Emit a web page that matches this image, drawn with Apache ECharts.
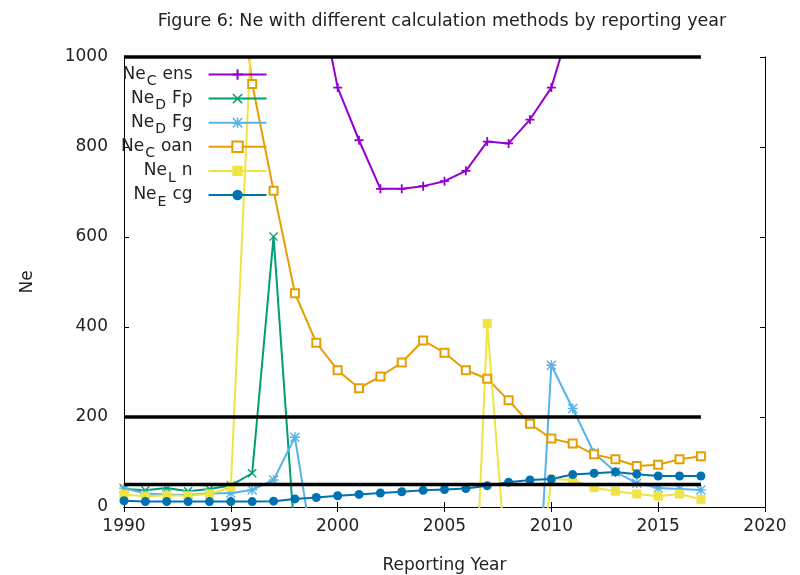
<!DOCTYPE html>
<html>
<head>
<meta charset="utf-8">
<script src="https://cdn.jsdelivr.net/npm/echarts@6/dist/echarts.min.js"></script>
<style>
  html, body { margin: 0; padding: 0; background: #fff; }
  #chart { width: 800px; height: 575px; }
</style>
</head>
<body>
<div id="chart"></div>
<script>
// reporting years 1990..2017
var years = [1990, 1991, 1992, 1993, 1994, 1995, 1996, 1997, 1998, 1999,
             2000, 2001, 2002, 2003, 2004, 2005, 2006, 2007, 2008, 2009,
             2010, 2011, 2012, 2013, 2014, 2015, 2016, 2017];

// values, null = not drawn / off the chart
var neCens = [null, null, null, null, null, null, null, null, null, 1170,
              932, 815, 707, 707, 713, 724, 747, 812, 808, 861,
              932, 1090, null, null, null, null, null, null];
var neDFp  = [40, 37, 42, 35, 40, 48, 75, 601, -75, null,
              null, null, null, null, null, null, null, null, null, null,
              null, null, null, null, null, null, null, null];
var neDFg  = [42, 30, 28, 27, 30, 31, 38, 60, 155, -140,
              null, null, null, null, null, null, null, null, null, -530,
              315, 219, 120, 78, 53, 42, 40, 38];
var neCoan = [null, null, null, null, null, 1350, 940, 703, 475, 365,
              304, 264, 290, 321, 370, 343, 304, 285, 237, 185,
              152, 141, 117, 106, 91, 94, 106, 113];
var neLn   = [28, 24, 26, 25, 29, 44, 1100, null, null, null,
              null, null, null, null, null, null, -710, 408, -200, -340,
              62, 60, 43, 35, 29, 24, 29, 17];
var neEcg  = [14, 12, 12, 12, 12, 12, 12, 13, 18, 21,
              25, 28, 31, 34, 37, 39, 41, 47, 55, 60,
              62, 72, 75, 78, 73, 69, 69, 69];

// black threshold lines
var refLevels = [1000, 200, 50];
var refFrom = 1990, refTo = 2017;

var xTicks = {min: 1990, max: 2020, step: 5};
var yTicks = {min: 0, max: 1000, step: 200};

var FONT = 'DejaVu Sans';

function pairs(vals) {
    return years.map(function (y, i) {
        return [y, vals[i] == null ? '-' : vals[i]];
    });
}

var plusPath = 'path://M4,0h2v4h4v2h-4v4h-2v-4h-4v-2h4z';
var crossPath = 'path://M1,0L5,4L9,0L10,1L6,5L10,9L9,10L5,6L1,10L0,9L4,5L0,1Z';
var starPath = 'path://M4.3,0h1.4v4.3h4.3v1.4h-4.3v4.3h-1.4v-4.3h-4.3v-1.4h4.3z' +
               'M1,0L5,4L9,0L10,1L6,5L10,9L9,10L5,6L1,10L0,9L4,5L0,1Z';

function mkLine(name, vals, color, symbol, size, extra) {
    var s = {
        name: name,
        type: 'line',
        data: pairs(vals),
        symbol: symbol,
        symbolSize: size,
        showSymbol: true,
        clip: true,
        lineStyle: {color: color, width: 2},
        itemStyle: {color: color},
        z: 3
    };
    if (extra) Object.assign(s.itemStyle, extra);
    return s;
}

var series = [
    mkLine('Ne_Cens', neCens, '#9400d3', plusPath, 9),
    mkLine('Ne_DFp', neDFp, '#009e73', crossPath, 9),
    mkLine('Ne_DFg', neDFg, '#56b4e9', starPath, 10),
    mkLine('Ne_Coan', neCoan, '#e69f00', 'emptyRect', 8, {borderWidth: 1.6, borderColor: '#e69f00'}),
    mkLine('Ne_Ln', neLn, '#f0e442', 'rect', 9),
    mkLine('Ne_Ecg', neEcg, '#0072b2', 'circle', 9)
];

refLevels.forEach(function (lv) {
    series.push({
        type: 'line',
        data: [[refFrom, lv], [refTo, lv]],
        symbol: 'none',
        silent: true,
        clip: false,
        lineStyle: {color: '#000', width: 3.5},
        z: 5
    });
});

var plainNum = function (v) { return String(v); };

var chart = echarts.init(document.getElementById('chart'));
chart.setOption({
    animation: false,
    backgroundColor: '#fff',
    title: {
        text: 'Figure 6: Ne with different calculation methods by reporting year',
        left: 437,
        textAlign: 'center',
        top: 7,
        textStyle: {fontFamily: FONT, fontSize: 17.5, fontWeight: 'normal', color: '#222'}
    },
    grid: {left: 124, right: 35, top: 57, bottom: 68, containLabel: false, outerBoundsMode: 'none'},
    legend: {
        orient: 'vertical',
        align: 'right',
        left: 121,
        top: 66,
        padding: 0,
        itemGap: 1.6,
        itemWidth: 58,
        itemHeight: 13,
        data: ['Ne_Cens', 'Ne_DFp', 'Ne_DFg', 'Ne_Coan', 'Ne_Ln', 'Ne_Ecg'],
        formatter: function (name) {
            var m = name.match(/^Ne_(\w)(.*)$/);
            return '{n|Ne}{s|' + m[1] + '}{n|' + m[2] + '}{g| }';
        },
        textStyle: {
            fontFamily: FONT,
            color: '#222',
            rich: {
                n: {fontFamily: FONT, fontSize: 17, lineHeight: 28, verticalAlign: 'middle', color: '#222'},
                s: {fontFamily: FONT, fontSize: 14, lineHeight: 14, verticalAlign: 'bottom', color: '#222', padding: [0, 6, 0, 1]},
                g: {width: 11, fontSize: 10}
            }
        }
    },
    xAxis: [{
        type: 'value',
        min: xTicks.min, max: xTicks.max, interval: xTicks.step,
        name: 'Reporting Year',
        nameLocation: 'middle',
        nameGap: 50,
        nameTextStyle: {fontFamily: FONT, fontSize: 17, color: '#222'},
        axisLine: {show: true, onZero: false, lineStyle: {color: '#000', width: 1}},
        axisTick: {show: true, inside: true, length: 5, lineStyle: {color: '#000'}},
        axisLabel: {fontFamily: FONT, fontSize: 17, color: '#222', margin: 11, formatter: plainNum},
        splitLine: {show: false}
    }, {
        type: 'value', position: 'top',
        min: xTicks.min, max: xTicks.max, interval: xTicks.step,
        axisLine: {show: true, lineStyle: {color: '#000', width: 1}},
        axisTick: {show: true, inside: true, length: 5, lineStyle: {color: '#000'}},
        axisLabel: {show: false},
        splitLine: {show: false}
    }],
    yAxis: [{
        type: 'value',
        min: yTicks.min, max: yTicks.max, interval: yTicks.step,
        name: 'Ne',
        nameLocation: 'middle',
        nameGap: 88,
        nameTextStyle: {fontFamily: FONT, fontSize: 17, color: '#222'},
        axisLine: {show: true, onZero: false, lineStyle: {color: '#000', width: 1}},
        axisTick: {show: true, inside: true, length: 5, lineStyle: {color: '#000'}},
        axisLabel: {fontFamily: FONT, fontSize: 17, color: '#222', margin: 16, formatter: plainNum},
        splitLine: {show: false}
    }, {
        type: 'value', position: 'right',
        min: yTicks.min, max: yTicks.max, interval: yTicks.step,
        axisLine: {show: true, lineStyle: {color: '#000', width: 1}},
        axisTick: {show: true, inside: true, length: 5, lineStyle: {color: '#000'}},
        axisLabel: {show: false},
        splitLine: {show: false}
    }],
    series: series
});
</script>
</body>
</html>
